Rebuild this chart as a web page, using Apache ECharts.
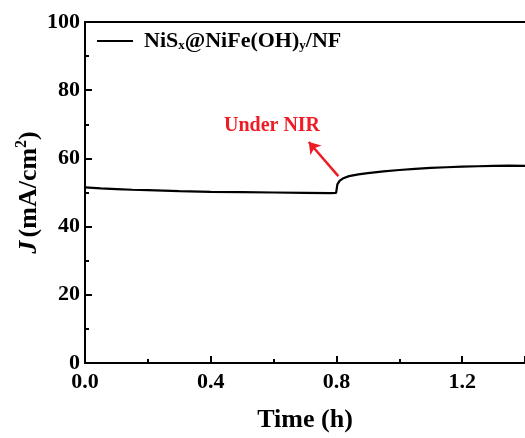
<!DOCTYPE html>
<html>
<head>
<meta charset="utf-8">
<script src="https://cdn.jsdelivr.net/npm/echarts@6/dist/echarts.min.js"></script>
<style>
  html, body { margin: 0; padding: 0; background: #fff; }
  #chart { width: 525px; height: 438px; }
</style>
</head>
<body>
<div id="chart"></div>
<script>
    // chronoamperometry curve, NIR switched on at 0.8 h
    const timeH = [0, 0.05, 0.1, 0.15, 0.2, 0.3, 0.4, 0.5, 0.6, 0.7, 0.78, 0.799,
                   0.803, 0.81, 0.82, 0.84, 0.87, 0.9, 0.95, 1.0, 1.05, 1.1, 1.15, 1.2, 1.25, 1.3, 1.35, 1.4];
    const currentJ = [51.5, 51.2, 51.0, 50.8, 50.7, 50.4, 50.2, 50.1, 50.0, 49.9, 49.8, 49.9,
                      52.4, 53.4, 54.1, 54.8, 55.3, 55.7, 56.2, 56.6, 56.9, 57.2, 57.4, 57.6, 57.7, 57.8, 57.9, 57.8];

    const xTicks = [0, 0.4, 0.8, 1.2];
    const yTicks = [0, 20, 40, 60, 80, 100];

    // annotation: label position and arrow (tail -> head)
    const nirLabel = [0.595, 69.5];
    const nirArrow = [[0.806, 54.8], [0.712, 64.8]];

    const serif = '"Liberation Serif", "Times New Roman", serif';

    const chart = echarts.init(document.getElementById('chart'));

    const option = {
        animation: false,
        grid: { left: 85, top: 22, right: 0, bottom: 75 },
        legend: {
            left: 92, top: 25,
            icon: 'rect', itemWidth: 36, itemHeight: 2, itemGap: 10,
            data: ['NiSx@NiFe(OH)y/NF'],
            formatter: function () {
                return '{b|NiS}{s|x}{b|@NiFe(OH)}{s|y}{b|/NF}';
            },
            textStyle: {
                color: '#000',
                padding: [0, 0, 0, 6],
                rich: {
                    b: { fontFamily: serif, fontWeight: 'bold', fontSize: 22, color: '#000' },
                    s: { fontFamily: serif, fontWeight: 'bold', fontSize: 13, color: '#000', padding: [9, 0, 0, 0] }
                }
            }
        },
        xAxis: [{
            type: 'value', min: 0, max: 1.4, interval: 0.4,
            name: 'Time (h)', nameLocation: 'middle', nameGap: 44,
            nameTextStyle: { fontFamily: serif, fontWeight: 'bold', fontSize: 26, color: '#000' },
            axisLine: { lineStyle: { color: '#000', width: 2 } },
            axisTick: { inside: true, length: 7, lineStyle: { color: '#000', width: 2 } },
            minorTick: { show: true, splitNumber: 2, length: 4, lineStyle: { color: '#000', width: 2 } },
            axisLabel: {
                fontFamily: serif, fontWeight: 'bold', fontSize: 22, color: '#000', margin: 8,
                showMaxLabel: false,
                formatter: function (v) { return v.toFixed(1); }
            },
            splitLine: { show: false }
        }, {
            type: 'value', min: 0, max: 1.4, position: 'top',
            axisLine: { show: true, onZero: false, lineStyle: { color: '#000', width: 2 } },
            axisTick: { show: false }, axisLabel: { show: false }, splitLine: { show: false }
        }],
        yAxis: {
            type: 'value', min: 0, max: 100, interval: 20,
            name: '{i|J} {n|(mA/cm}{p|2}{n|)}',
            nameLocation: 'middle', nameGap: 41, nameRotate: 90,
            nameMoveOverlap: false,
            nameTextStyle: {
                rich: {
                    i: { fontFamily: serif, fontWeight: 'bold', fontStyle: 'italic', fontSize: 26, color: '#000' },
                    n: { fontFamily: serif, fontWeight: 'bold', fontSize: 26, color: '#000' },
                    p: { fontFamily: serif, fontWeight: 'bold', fontSize: 16, color: '#000', padding: [0, 0, 14, 0] }
                }
            },
            axisLine: { show: true, lineStyle: { color: '#000', width: 2 } },
            axisTick: { inside: true, length: 7, lineStyle: { color: '#000', width: 2 } },
            minorTick: { show: true, splitNumber: 2, length: 4, lineStyle: { color: '#000', width: 2 } },
            axisLabel: {
                fontFamily: serif, fontWeight: 'bold', fontSize: 22, color: '#000', margin: 5,
                formatter: function (v) { return yTicks.indexOf(v) >= 0 ? String(v) : ''; }
            },
            splitLine: { show: false }
        },
        series: [{
            name: 'NiSx@NiFe(OH)y/NF',
            type: 'line',
            showSymbol: false,
            data: timeH.map(function (t, i) { return [t, currentJ[i]]; }),
            lineStyle: { color: '#000', width: 2.2 },
            itemStyle: { color: '#000' },
            markPoint: {
                silent: true,
                symbol: 'circle', symbolSize: 0,
                label: {
                    show: true, formatter: 'Under NIR', color: '#ee1c25',
                    fontFamily: serif, fontWeight: 'bold', fontSize: 20
                },
                data: [{ coord: nirLabel }]
            },
            markLine: {
                silent: true,
                symbol: ['none', 'arrow'], symbolSize: 11,
                lineStyle: { color: '#ee1c25', width: 2.5, type: 'solid' },
                label: { show: false },
                data: [[{ coord: nirArrow[0] }, { coord: nirArrow[1] }]]
            }
        }]
    };

    chart.setOption(option);
</script>
</body>
</html>
